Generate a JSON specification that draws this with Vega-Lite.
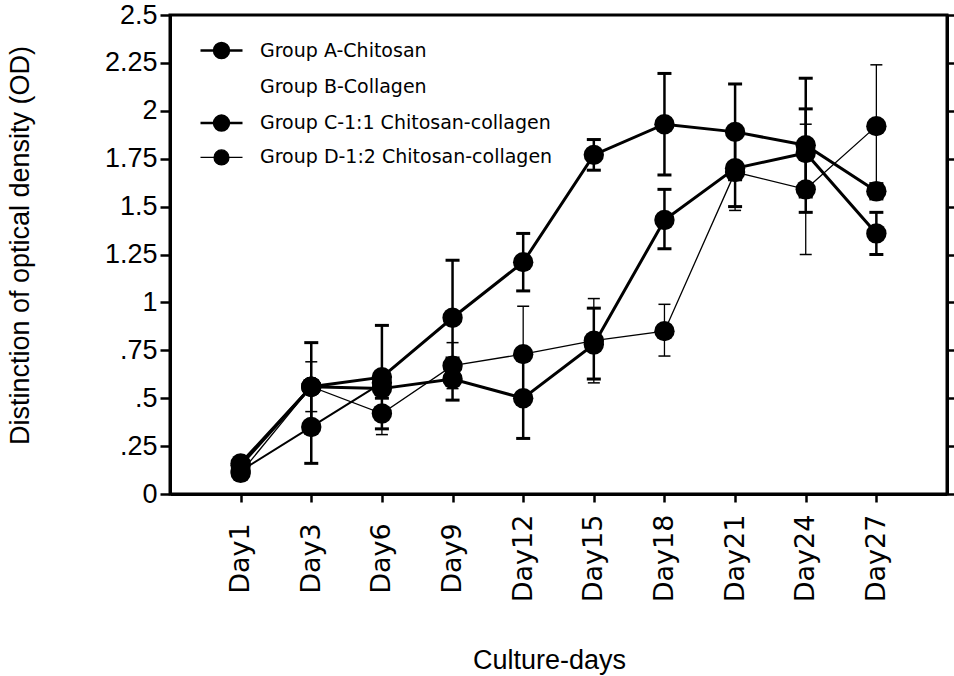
{
  "$schema": "https://vega.github.io/schema/vega-lite/v6.json",
  "width": 777,
  "height": 479,
  "autosize": {"type": "none"},
  "padding": {"left": 170, "top": 15, "right": 7, "bottom": 182},
  "background": "white",
  "config": {"view": {"stroke": "black", "strokeWidth": 3}, "font": "Liberation Sans"},
  "data": {"values": [
    {"day": "Day1", "group": "Group A-Chitosan", "od": 0.15, "lo": 0.13, "hi": 0.17},
    {"day": "Day3", "group": "Group A-Chitosan", "od": 0.56, "lo": 0.33, "hi": 0.79},
    {"day": "Day6", "group": "Group A-Chitosan", "od": 0.61, "lo": 0.34, "hi": 0.88},
    {"day": "Day9", "group": "Group A-Chitosan", "od": 0.92, "lo": 0.62, "hi": 1.22},
    {"day": "Day12", "group": "Group A-Chitosan", "od": 1.21, "lo": 1.06, "hi": 1.36},
    {"day": "Day15", "group": "Group A-Chitosan", "od": 1.77, "lo": 1.69, "hi": 1.85},
    {"day": "Day18", "group": "Group A-Chitosan", "od": 1.93, "lo": 1.665, "hi": 2.195},
    {"day": "Day21", "group": "Group A-Chitosan", "od": 1.89, "lo": 1.64, "hi": 2.14},
    {"day": "Day24", "group": "Group A-Chitosan", "od": 1.82, "lo": 1.47, "hi": 2.17},
    {"day": "Day27", "group": "Group A-Chitosan", "od": 1.58, "lo": 1.54, "hi": 1.62},
    {"day": "Day1", "group": "Group B-Collagen", "od": 0.12, "lo": 0.10, "hi": 0.14},
    {"day": "Day3", "group": "Group B-Collagen", "od": 0.35, "lo": 0.16, "hi": 0.54},
    {"day": "Day6", "group": "Group B-Collagen", "od": 0.58, "lo": 0.56, "hi": 0.60},
    {"day": "Day1", "group": "Group C-1:1 Chitosan-collagen", "od": 0.16, "lo": 0.14, "hi": 0.18},
    {"day": "Day3", "group": "Group C-1:1 Chitosan-collagen", "od": 0.56, "lo": 0.54, "hi": 0.58},
    {"day": "Day6", "group": "Group C-1:1 Chitosan-collagen", "od": 0.55, "lo": 0.50, "hi": 0.60},
    {"day": "Day9", "group": "Group C-1:1 Chitosan-collagen", "od": 0.60, "lo": 0.49, "hi": 0.71},
    {"day": "Day12", "group": "Group C-1:1 Chitosan-collagen", "od": 0.50, "lo": 0.29, "hi": 0.71},
    {"day": "Day15", "group": "Group C-1:1 Chitosan-collagen", "od": 0.78, "lo": 0.60, "hi": 0.97},
    {"day": "Day18", "group": "Group C-1:1 Chitosan-collagen", "od": 1.43, "lo": 1.28, "hi": 1.59},
    {"day": "Day21", "group": "Group C-1:1 Chitosan-collagen", "od": 1.70, "lo": 1.50, "hi": 1.90},
    {"day": "Day24", "group": "Group C-1:1 Chitosan-collagen", "od": 1.78, "lo": 1.55, "hi": 2.01},
    {"day": "Day27", "group": "Group C-1:1 Chitosan-collagen", "od": 1.36, "lo": 1.25, "hi": 1.47},
    {"day": "Day1", "group": "Group D-1:2 Chitosan-collagen", "od": 0.11, "lo": 0.09, "hi": 0.13},
    {"day": "Day3", "group": "Group D-1:2 Chitosan-collagen", "od": 0.56, "lo": 0.43, "hi": 0.69},
    {"day": "Day6", "group": "Group D-1:2 Chitosan-collagen", "od": 0.42, "lo": 0.31, "hi": 0.55},
    {"day": "Day9", "group": "Group D-1:2 Chitosan-collagen", "od": 0.67, "lo": 0.55, "hi": 0.79},
    {"day": "Day12", "group": "Group D-1:2 Chitosan-collagen", "od": 0.73, "lo": 0.48, "hi": 0.98},
    {"day": "Day15", "group": "Group D-1:2 Chitosan-collagen", "od": 0.80, "lo": 0.58, "hi": 1.02},
    {"day": "Day18", "group": "Group D-1:2 Chitosan-collagen", "od": 0.85, "lo": 0.72, "hi": 0.99},
    {"day": "Day21", "group": "Group D-1:2 Chitosan-collagen", "od": 1.68, "lo": 1.48, "hi": 1.88},
    {"day": "Day24", "group": "Group D-1:2 Chitosan-collagen", "od": 1.59, "lo": 1.25, "hi": 1.93},
    {"day": "Day27", "group": "Group D-1:2 Chitosan-collagen", "od": 1.92, "lo": 1.60, "hi": 2.24}
  ]},
  "encoding": {
    "x": {
      "field": "day", "type": "ordinal",
      "sort": ["Day1", "Day3", "Day6", "Day9", "Day12", "Day15", "Day18", "Day21", "Day24", "Day27"],
      "scale": {"type": "point", "padding": 1.21},
      "axis": {
        "orient": "bottom", "tickSize": 8, "tickWidth": 2.5, "tickColor": "black",
        "domainColor": "black", "domainWidth": 3,
        "labelAngle": -90, "labelAlign": "center", "labelBaseline": "middle",
        "labelPadding": 56, "labelFont": "DejaVu Sans", "labelFontSize": 27, "labelColor": "black",
        "labelOverlap": false, "labelLimit": 300,
        "title": "Culture-days", "titleFont": "Liberation Sans", "titleFontSize": 27, "titleFontWeight": "normal",
        "titleColor": "black", "titleX": 379, "titleY": 166, "titleAlign": "center", "titleBaseline": "middle"
      }
    }
  },
  "layer": [
    {
      "mark": {"type": "rule", "color": "black"},
      "encoding": {
        "y": {
          "field": "lo", "type": "quantitative", "scale": {"domain": [0, 2.5], "nice": false, "zero": false},
          "axis": {
            "orient": "left", "values": [0, 0.25, 0.5, 0.75, 1, 1.25, 1.5, 1.75, 2, 2.25, 2.5],
            "labelExpr": "datum.value > 0 && datum.value < 1 ? substring(format(datum.value, '~g'), 1) : format(datum.value, '~g')",
            "tickSize": 10, "tickWidth": 2.5, "tickColor": "black", "domainColor": "black", "domainWidth": 3,
            "labelFont": "Liberation Sans", "labelFontSize": 27, "labelColor": "black", "labelPadding": 3,
            "grid": false,
            "title": "Distinction of optical density (OD)", "titleFont": "Liberation Sans", "titleFontSize": 27,
            "titleFontWeight": "normal", "titleColor": "black", "titleX": -150, "titleY": 230,
            "titleAlign": "center", "titleBaseline": "middle", "titleAngle": -90
          }
        },
        "y2": {"field": "hi"},
        "strokeWidth": {"condition": {"test": "datum.group == 'Group D-1:2 Chitosan-collagen'", "value": 1.3}, "value": 2.5}
      }
    },
    {
      "transform": [
        {"filter": "datum.group != 'Group D-1:2 Chitosan-collagen'"},
        {"fold": ["lo", "hi"], "as": ["bound", "val"]}
      ],
      "mark": {"type": "tick", "color": "black", "thickness": 3, "size": 14, "opacity": 1},
      "encoding": {
        "y": {"field": "val", "type": "quantitative", "axis": null}
      }
    },
    {
      "transform": [
        {"filter": "datum.group == 'Group D-1:2 Chitosan-collagen'"},
        {"fold": ["lo", "hi"], "as": ["bound", "val"]}
      ],
      "mark": {"type": "tick", "color": "black", "thickness": 1.5, "size": 12, "opacity": 1},
      "encoding": {
        "y": {"field": "val", "type": "quantitative", "axis": null}
      }
    },
    {
      "transform": [{"filter": "datum.group == 'Group B-Collagen'"}],
      "mark": {"type": "line", "color": "black", "strokeWidth": 2},
      "encoding": {
        "y": {"field": "od", "type": "quantitative", "axis": null}
      }
    },
    {
      "transform": [{"filter": "datum.group != 'Group B-Collagen'"}],
      "mark": {"type": "line"},
      "encoding": {
        "y": {"field": "od", "type": "quantitative", "axis": null},
        "color": {
          "field": "group", "type": "nominal",
          "scale": {
            "domain": ["Group A-Chitosan", "Group B-Collagen", "Group C-1:1 Chitosan-collagen", "Group D-1:2 Chitosan-collagen"],
            "range": ["black", "transparent", "black", "black"]
          },
          "legend": {
            "orient": "none", "legendX": 42, "legendY": 26, "title": null,
            "symbolType": "M-1.4,0H1.4M-0.5,0A0.5,0.5,0,1,1,0.5,0A0.5,0.5,0,1,1,-0.5,0Z",
            "symbolSize": 900, "labelFont": "DejaVu Sans", "labelFontSize": 19, "labelColor": "black",
            "labelOffset": 29, "rowPadding": 11.3, "padding": 0, "labelLimit": 400,
            "encode": {
              "symbols": {
                "update": {
                  "fill": {"scale": "color", "field": "value"},
                  "stroke": {"scale": "color", "field": "value"},
                  "strokeWidth": {"signal": "datum.value == 'Group D-1:2 Chitosan-collagen' ? 1.2 : 2.5"}
                }
              }
            }
          }
        },
        "strokeWidth": {"condition": {"test": "datum.group == 'Group D-1:2 Chitosan-collagen'", "value": 1.3}, "value": 3}
      }
    },
    {
      "mark": {"type": "point", "filled": true, "color": "black", "opacity": 1, "size": 415, "shape": "circle"},
      "encoding": {
        "y": {
          "field": "od", "type": "quantitative",
          "axis": {
            "orient": "right", "values": [0, 0.25, 0.5, 0.75, 1, 1.25, 1.5, 1.75, 2, 2.25, 2.5],
            "labels": false, "tickSize": 10, "tickWidth": 2.5, "tickColor": "black",
            "domainColor": "black", "domainWidth": 3, "grid": false, "title": null
          }
        }
      }
    }
  ],
  "resolve": {"axis": {"y": "independent"}}
}
